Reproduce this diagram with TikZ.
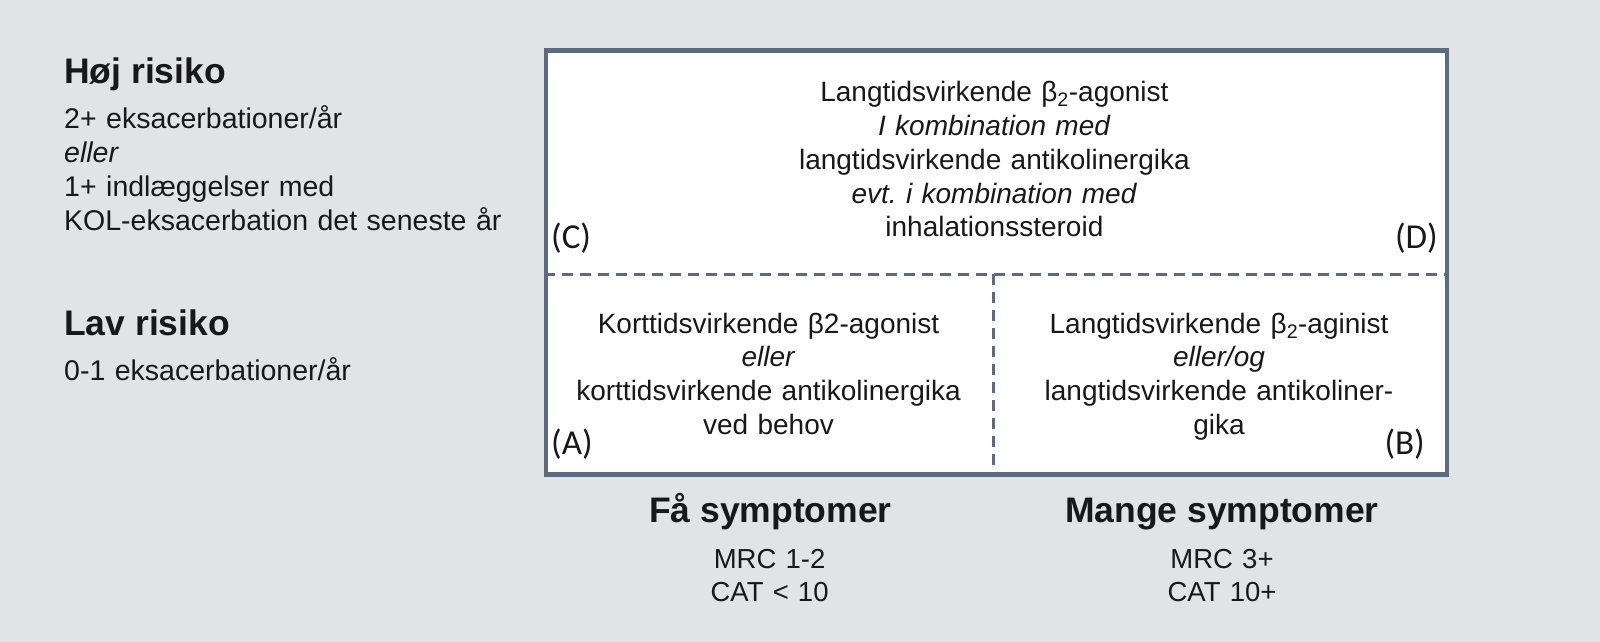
\documentclass[tikz,border=0pt]{standalone}
\usepackage{fontspec}
\setmainfont{Liberation Sans}
\newfontfamily\calib{Carlito}
\frenchspacing
\definecolor{bgc}{RGB}{226,227,229}
\definecolor{framec}{RGB}{92,108,128}
\definecolor{ink}{RGB}{24,24,24}
\tikzset{
  head/.style={font=\fontsize{35.5}{40}\selectfont\bfseries, anchor=base west, inner sep=0pt, text=ink},
  crit/.style={font=\fontsize{28.5}{34}\selectfont, align=left, text width=480pt, anchor=base west, inner sep=0pt, text=ink},
  cell/.style={font=\fontsize{28}{33.8}\selectfont, align=center, text width=440pt, anchor=base, inner sep=0pt, text=ink},
  tagw/.style={font=\calib\fontsize{35}{40}\selectfont, anchor=base west, inner sep=0pt, text=ink},
  tage/.style={font=\calib\fontsize{35}{40}\selectfont, anchor=base east, inner sep=0pt, text=ink},
  axis/.style={font=\fontsize{35.5}{40}\selectfont\bfseries, anchor=base, inner sep=0pt, text=ink},
  symscale/.style={font=\fontsize{27.5}{33.4}\selectfont, align=center, text width=300pt, anchor=base, inner sep=0pt, text=ink},
  divider/.style={draw=framec, line width=3pt, dash pattern=on 11pt off 7pt},
}
\begin{document}
\frenchspacing
\begin{tikzpicture}[x=1pt,y=-1pt]
\path[fill=bgc] (0,0) rectangle (1600,642);
\useasboundingbox (0,0) rectangle (1600,642);

% left criteria
\node[head] (hoj) at (64,83.3) {Høj risiko};
\node[crit] (hojtxt) at (64,128.5) {2+ eksacerbationer/år\\\textit{eller}\\1+ indlæggelser med\\KOL-eksacerbation det seneste år};
\node[head] (lav) at (64,335) {Lav risiko};
\node[crit] (lavtxt) at (64,380) {0-1 eksacerbationer/år};

% grid
\node[draw=framec, line width=4.3pt, fill=white, minimum width=900.7pt, minimum height=423.8pt, inner sep=0pt, anchor=north west] (grid) at (544,48.5) {};
\coordinate (mL) at (544,274);
\coordinate (mR) at (1444.7,274);
\coordinate (mT) at (993.5,274);
\coordinate (mB) at (993.5,472.3);
\draw[divider] (mL) -- (mR);
\draw[divider] (mT) -- (mB);

% cell texts
\node[cell] (cd) at (994.4,101.7) {Langtidsvirkende β\textsubscript{2}-agonist\\\textit{I kombination med}\\langtidsvirkende antikolinergika\\\textit{evt. i kombination med}\\inhalationssteroid};
\node[cell] (a) at (768.5,333) {Korttidsvirkende β2-agonist\\\textit{eller}\\korttidsvirkende antikolinergika\\ved behov};
\node[cell] (b) at (1219,333) {Langtidsvirkende β\textsubscript{2}-aginist\\\textit{eller/og}\\langtidsvirkende antikoliner-\\gika};

% quadrant tags
\node[tagw] (tc) at (551,248) {(C)};
\node[tage] (td) at (1438,248) {(D)};
\node[tagw] (ta) at (551,454) {(A)};
\node[tage] (tb) at (1425,454) {(B)};

% axis labels
\node[axis] (fa) at (770.5,522.7) {Få symptomer};
\node[axis] (mange) at (1222,522.7) {Mange symptomer};
\node[symscale] (fasc) at (769.6,568.3) {MRC 1-2\\CAT < 10};
\node[symscale] (mangesc) at (1222,568.3) {MRC 3+\\CAT 10+};
\end{tikzpicture}
\end{document}
